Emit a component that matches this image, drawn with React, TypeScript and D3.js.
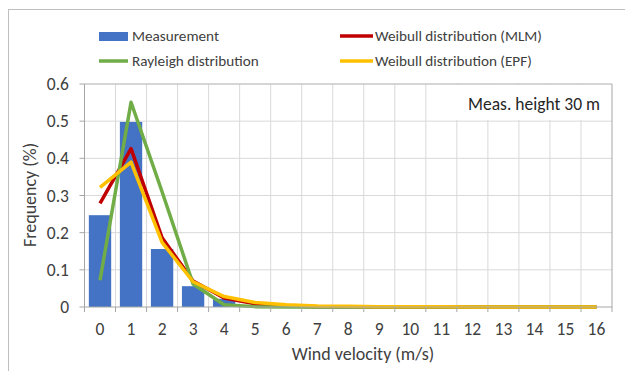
import React from 'react';
import * as d3 from 'd3';

const categories = d3.range(0, 17).map(String);
const measurement = [0.247, 0.498, 0.156, 0.056, 0.022, 0.005, 0.002, 0.001, 0, 0, 0, 0, 0, 0, 0, 0, 0];
const weibullMLM = [0.279, 0.426, 0.186, 0.07, 0.024, 0.009, 0.003, 0.001, 0.001, 0, 0, 0, 0, 0, 0, 0, 0];
const rayleigh = [0.072, 0.551, 0.31, 0.062, 0.006, 0.001, 0, 0, 0, 0, 0, 0, 0, 0, 0, 0, 0];
const weibullEPF = [0.322, 0.39, 0.174, 0.068, 0.028, 0.012, 0.006, 0.003, 0.002, 0.001, 0.001, 0.001, 0, 0, 0, 0, 0];
const yTicks = [0, 0.1, 0.2, 0.3, 0.4, 0.5, 0.6];

const W = 625;
const H = 371;
const font = "Carlito, Calibri, Lato, 'Liberation Sans', sans-serif";
const textColor = '#404040';

const App = () => {
  const x = d3.scaleBand<string>().domain(categories).range([84.5, 612]).padding(0);
  const y = d3.scaleLinear().domain([0, 0.6]).range([307, 84]);
  const bw = x.bandwidth();
  const cx = (i: number) => (x(categories[i]) as number) + bw / 2;

  const line = d3
    .line<number>()
    .x((_, i) => cx(i))
    .y((d) => y(d));

  const series = [
    { name: 'Weibull distribution (MLM)', values: weibullMLM, color: '#c00000' },
    { name: 'Rayleigh distribution', values: rayleigh, color: '#70ad47' },
    { name: 'Weibull distribution (EPF)', values: weibullEPF, color: '#ffc000' },
  ];

  const boundaries = d3.range(0, categories.length + 1).map((i) => 84.5 + i * bw);

  return (
    <svg width={W} height={H} style={{ position: 'absolute', left: 0, top: 0 }} fontFamily={font}>
      <rect x={0} y={0} width={W} height={H} fill="#fff" />
      <rect x={8.5} y={9.5} width={W} height={H} fill="none" stroke="#bfbfbf" />

      {/* gridlines */}
      {yTicks.slice(1).map((t) => (
        <line key={'h' + t} x1={84.5} x2={612} y1={y(t)} y2={y(t)} stroke="#d9d9d9" />
      ))}
      {boundaries.slice(1, -1).map((b, i) => (
        <line key={'v' + i} x1={b} x2={b} y1={y(0.6)} y2={y(0)} stroke="#d9d9d9" />
      ))}
      <line x1={612} x2={612} y1={y(0.6)} y2={y(0)} stroke="#a6a6a6" />
      <line x1={84.5} x2={612} y1={y(0.6)} y2={y(0.6)} stroke="#bfbfbf" />

      {/* text box */}
      <rect x={456} y={y(0.6) + 1} width={155} height={35} fill="#fff" />
      <text x={600} y={110} textAnchor="end" fontSize={17.5} fill="#262626">
        Meas. height 30 m
      </text>

      {/* bars */}
      {measurement.map((v, i) => (
        <rect
          key={'b' + i}
          x={cx(i) - bw * 0.36}
          width={bw * 0.72}
          y={y(v)}
          height={y(0) - y(v)}
          fill="#4472c4"
        />
      ))}

      {/* lines */}
      {series.map((s) => (
        <path key={s.name} d={line(s.values) as string} fill="none" stroke={s.color} strokeWidth={3.5} strokeLinejoin="round" />
      ))}

      {/* axes */}
      <line x1={84.5} x2={84.5} y1={y(0.6)} y2={y(0)} stroke="#a6a6a6" />
      <line x1={84.5} x2={612} y1={y(0)} y2={y(0)} stroke="#a6a6a6" />
      {yTicks.map((t) => (
        <g key={'yt' + t}>
          <line x1={79.5} x2={84.5} y1={y(t)} y2={y(t)} stroke="#a6a6a6" />
          <text x={69} y={y(t)} dy="0.35em" textAnchor="end" fontSize={17.5} fill={textColor}>
            {t === 0 ? '0' : t.toFixed(1)}
          </text>
        </g>
      ))}
      {boundaries.map((b, i) => (
        <line key={'xt' + i} x1={b} x2={b} y1={y(0)} y2={y(0) + 5} stroke="#a6a6a6" />
      ))}
      {categories.map((c, i) => (
        <text key={'xl' + c} x={cx(i)} y={335} textAnchor="middle" fontSize={17.5} fill={textColor}>
          {c}
        </text>
      ))}

      <text x={363} y={360} textAnchor="middle" fontSize={18} fill={textColor}>
        Wind velocity (m/s)
      </text>
      <text transform={`translate(36,195) rotate(-90)`} textAnchor="middle" fontSize={18} fill={textColor}>
        Frequency (%)
      </text>

      {/* legend */}
      <rect x={99} y={32} width={29} height={9} fill="#4472c4" />
      <text x={132} y={41} fontSize={15.2} fill={textColor}>Measurement</text>
      <line x1={99} x2={128} y1={61} y2={61} stroke="#70ad47" strokeWidth={3.5} />
      <text x={132} y={66} fontSize={15.2} fill={textColor}>Rayleigh distribution</text>
      <line x1={340} x2={373} y1={36} y2={36} stroke="#c00000" strokeWidth={3.5} />
      <text x={375} y={41} fontSize={15.2} fill={textColor}>Weibull distribution (MLM)</text>
      <line x1={340} x2={373} y1={61} y2={61} stroke="#ffc000" strokeWidth={3.5} />
      <text x={375} y={66} fontSize={15.2} fill={textColor}>Weibull distribution (EPF)</text>
    </svg>
  );
};

export default App;
